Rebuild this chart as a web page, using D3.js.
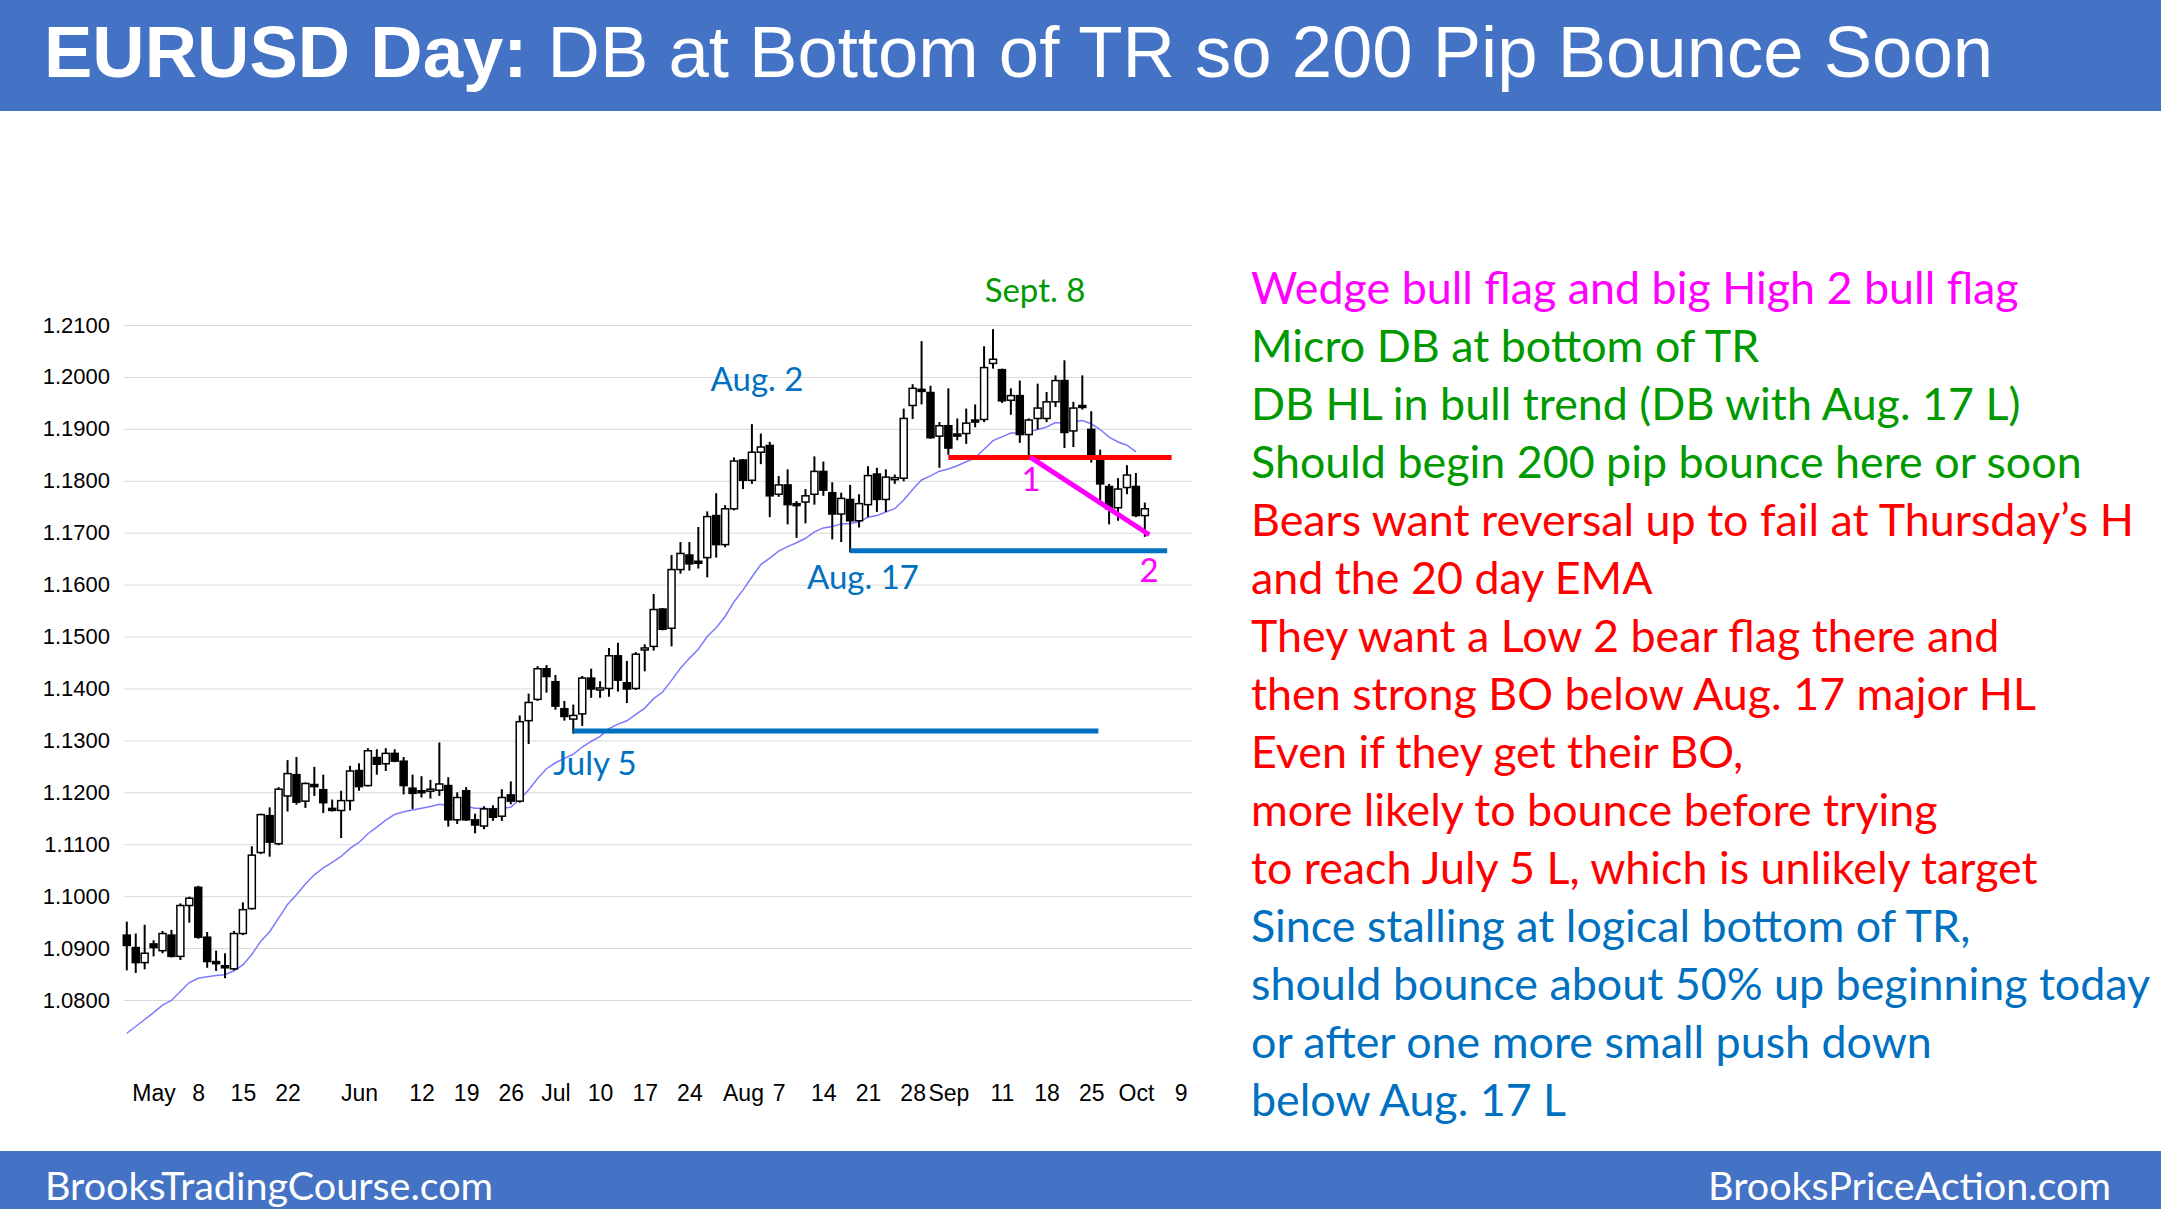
<!DOCTYPE html>
<html><head><meta charset="utf-8">
<script src="https://cdn.jsdelivr.net/npm/d3@7"></script>
<style>body{margin:0;background:#fff}svg{display:block}</style>
</head><body>
<script>
// OHLC in 1/10000 units, trading day index 0 = Apr 26 2017
const opens  = [10925,10901,10872,10908,10895,10925,10884,10982,11017,10921,10874,10866,10860,10928,10976,11084,11155,11101,11193,11234,11183,11215,11205,11169,11165,11184,11242,11213,11267,11255,11275,11260,11208,11203,11203,11204,11213,11147,11203,11147,11135,11168,11154,11195,11183,11338,11379,11438,11413,11361,11341,11351,11420,11400,11400,11463,11411,11400,11476,11481,11553,11516,11629,11657,11645,11652,11733,11677,11746,11840,11801,11855,11868,11774,11792,11756,11759,11774,11818,11777,11736,11764,11723,11754,11813,11764,11803,11805,11945,11976,11970,11886,11906,11890,11891,11917,11918,12026,12014,11955,11964,11889,11920,11920,11952,11993,11896,11945,11899,11848,11789,11748,11787,11789,11733];
const highs  = [10951,10928,10945,10915,10933,10935,10986,10999,11020,10931,10895,10890,10933,10988,11096,11159,11171,11210,11262,11268,11219,11249,11234,11186,11203,11251,11256,11285,11283,11285,11283,11268,11234,11231,11224,11296,11229,11200,11210,11159,11173,11175,11206,11221,11348,11390,11443,11445,11426,11376,11369,11424,11438,11414,11478,11488,11453,11470,11485,11582,11555,11657,11682,11682,11711,11741,11776,11753,11845,11842,11909,11891,11875,11809,11822,11761,11784,11847,11837,11797,11777,11792,11774,11828,11825,11822,11812,11939,11986,12069,11983,11913,11978,11920,11939,11947,12059,12092,12016,11978,11993,11920,11987,11971,12003,12032,11952,12003,11934,11860,11794,11805,11830,11815,11758];
const lows   = [10857,10852,10859,10884,10890,10882,10877,10949,10918,10862,10856,10842,10857,10925,10974,11081,11076,11098,11163,11176,11170,11193,11160,11163,11112,11165,11203,11211,11234,11241,11258,11196,11168,11190,11188,11193,11134,11139,11145,11121,11129,11145,11145,11177,11180,11293,11376,11392,11359,11338,11313,11328,11382,11382,11384,11394,11372,11397,11433,11473,11512,11481,11621,11627,11631,11614,11652,11672,11743,11784,11794,11832,11730,11769,11716,11690,11718,11754,11771,11687,11682,11662,11710,11730,11740,11740,11794,11799,11919,11947,11881,11825,11850,11878,11871,11903,11913,12016,11950,11927,11873,11847,11899,11913,11942,11863,11865,11937,11835,11754,11716,11723,11774,11730,11692];
const closes = [10905,10872,10890,10901,10928,10884,10982,10996,10921,10874,10870,10862,10928,10974,11079,11157,11104,11206,11236,11181,11217,11211,11180,11167,11184,11241,11211,11280,11254,11275,11260,11213,11198,11201,11206,11216,11147,11190,11147,11137,11168,11152,11190,11183,11336,11373,11438,11423,11366,11346,11348,11420,11399,11401,11463,11416,11399,11466,11478,11552,11514,11629,11660,11640,11643,11731,11677,11746,11838,11801,11855,11865,11771,11792,11754,11753,11771,11818,11782,11736,11766,11723,11756,11810,11764,11807,11806,11920,11978,11975,11883,11906,11863,11887,11911,11915,12018,12034,11954,11964,11889,11917,11940,11952,11993,11893,11940,11943,11850,11794,11746,11784,11811,11733,11746];
const emaStart = 10736;
const yTicks = [1.08,1.09,1.10,1.11,1.12,1.13,1.14,1.15,1.16,1.17,1.18,1.19,1.20,1.21];
const xTickIdx = [3,8,13,18,26,33,38,43,48,53,58,63,69,73,78,83,88,92,98,103,108,113,118];
const xTickLbl = ["May","8","15","22","Jun","12","19","26","Jul","10","17","24","Aug","7","14","21","28","Sep","11","18","25","Oct","9"];
const notes = [
 ["Wedge bull flag and big High 2 bull flag","#FF00FF"],
 ["Micro DB at bottom of TR","#009900"],
 ["DB HL in bull trend (DB with Aug. 17 L)","#009900"],
 ["Should begin 200 pip bounce here or soon","#009900"],
 ["Bears want reversal up to fail at Thursday’s H","#FF0000"],
 ["and the 20 day EMA","#FF0000"],
 ["They want a Low 2 bear flag there and","#FF0000"],
 ["then strong BO below Aug. 17 major HL","#FF0000"],
 ["Even if they get their BO,","#FF0000"],
 ["more likely to bounce before trying","#FF0000"],
 ["to reach July 5 L, which is unlikely target","#FF0000"],
 ["Since stalling at logical bottom of TR,","#0070C0"],
 ["should bounce about 50% up beginning today","#0070C0"],
 ["or after one more small push down","#0070C0"],
 ["below Aug. 17 L","#0070C0"]];
const redLine = [92,1.1845,117,1.1845];
const aug17Line = [81,1.1665,116.5,1.1665];
const jul5Line = [50,1.1318,108.8,1.1318];
const wedgeLine = [101.2,1.1845,114.5,1.1696];

const W=2161,H=1209;
const svg=d3.select("body").append("svg").attr("width",W).attr("height",H);
const x=d3.scaleLinear().domain([0,118]).range([126.8,126.8+8.93*118]);
const y=d3.scaleLinear().domain([1.08,1.21]).range([1000,325]);
const data=opens.map((o,i)=>({i,o:o/1e4,h:highs[i]/1e4,l:lows[i]/1e4,c:closes[i]/1e4}));

svg.append("rect").attr("x",0).attr("y",0).attr("width",W).attr("height",111).attr("fill","#4472C4");
svg.append("rect").attr("x",0).attr("y",1151).attr("width",W).attr("height",58).attr("fill","#4472C4");
const t=svg.append("text").attr("x",44).attr("y",77).attr("fill","#fff").attr("font-family","Liberation Sans, Arial").attr("font-size",72.5);
t.append("tspan").attr("font-weight","bold").text("EURUSD Day:");
t.append("tspan").text(" DB at Bottom of TR so 200 Pip Bounce Soon");
svg.append("text").attr("x",45).attr("y",1200).attr("fill","#fff").attr("font-family","Lato, sans-serif").attr("font-size",39.5).text("BrooksTradingCourse.com");
svg.append("text").attr("x",2111).attr("y",1200).attr("text-anchor","end").attr("fill","#fff").attr("font-family","Lato, sans-serif").attr("font-size",39.5).text("BrooksPriceAction.com");

const ya=svg.append("g").attr("transform","translate(124,0)").call(d3.axisLeft(y).tickValues(yTicks).tickFormat(d3.format(".4f")).tickSize(-1068).tickPadding(14));
ya.select(".domain").remove();
ya.selectAll("line").attr("stroke","#d9d9d9");
ya.selectAll("text").attr("font-family","Liberation Sans, Arial").attr("font-size",22).attr("fill","#000");
const xa=svg.append("g").attr("transform","translate(0,1071)").call(d3.axisBottom(x).tickValues(xTickIdx).tickFormat((d,k)=>xTickLbl[k]).tickSize(0).tickPadding(14));
xa.select(".domain").remove();
xa.selectAll("text").attr("font-family","Liberation Sans, Arial").attr("font-size",23).attr("fill","#000");

const k=2/21;let e=emaStart/1e4;const ema=[];
data.forEach((d,i)=>{ if(i>0) e=d.c*k+e*(1-k); ema.push([i,e]); });
svg.append("path").datum(ema.slice(0,114)).attr("fill","none").attr("stroke","#7b7bff").attr("stroke-width",1.5)
 .attr("d",d3.line().x(d=>x(d[0])).y(d=>y(d[1])));

const cw=7;
const g=svg.append("g");
g.selectAll("line.w").data(data).join("line").attr("x1",d=>x(d.i)).attr("x2",d=>x(d.i)).attr("y1",d=>y(d.h)).attr("y2",d=>y(d.l)).attr("stroke","#000").attr("stroke-width",2);
g.selectAll("rect").data(data).join("rect").attr("x",d=>x(d.i)-cw/2).attr("width",cw)
 .attr("y",d=>y(Math.max(d.o,d.c))).attr("height",d=>Math.max(2,Math.abs(y(d.o)-y(d.c))))
 .attr("fill",d=>d.c>=d.o?"#fff":"#000").attr("stroke","#000").attr("stroke-width",1.5);

function ln(a,col,w){svg.append("line").attr("x1",x(a[0])).attr("y1",y(a[1])).attr("x2",x(a[2])).attr("y2",y(a[3])).attr("stroke",col).attr("stroke-width",w);}
ln(redLine,"#FF0000",5);ln(aug17Line,"#0070C0",5);ln(jul5Line,"#0070C0",5);ln(wedgeLine,"#FF00FF",5);

function lab(txt,cx,cy,col){svg.append("text").attr("x",cx).attr("y",cy).attr("text-anchor","middle").attr("dominant-baseline","middle").attr("font-family","Lato, sans-serif").attr("font-size",33).attr("fill",col).text(txt);}
lab("Sept. 8",1035,294,"#009900");lab("Aug. 2",757,383,"#0070C0");lab("Aug. 17",863,581,"#0070C0");lab("July 5",595,767,"#0070C0");
lab("1",1031,483,"#FF00FF");lab("2",1149,574,"#FF00FF");

svg.append("g").selectAll("text").data(notes).join("text").attr("x",1251).attr("y",(d,i)=>293+i*58).attr("dominant-baseline","middle")
 .attr("font-family","Lato, sans-serif").attr("font-size",44.8).attr("fill",d=>d[1]).text(d=>d[0]);
</script>
</body></html>
